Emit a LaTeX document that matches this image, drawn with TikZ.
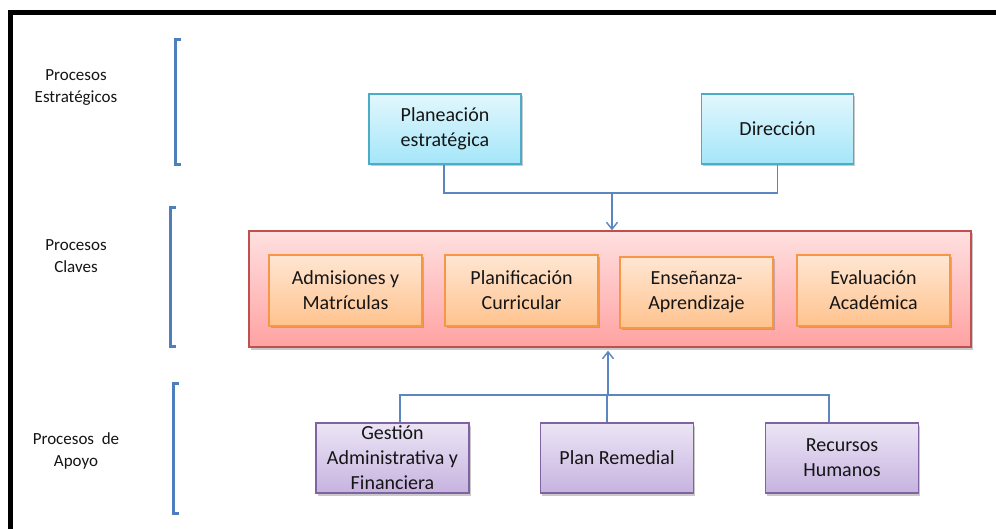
\documentclass[tikz,border=0pt]{standalone}
\usepackage{fontspec}
\setmainfont{Carlito}
\usetikzlibrary{arrows.meta,shadows,calc}
\definecolor{conn}{HTML}{5B86C0}
\definecolor{brk}{HTML}{4F7EBD}
\definecolor{txt}{HTML}{151515}
\definecolor{HTML4BACC6}{HTML}{4BACC6}
\definecolor{cyantop}{HTML}{E2F7FD}
\definecolor{cyanbot}{HTML}{A4E6F9}
\definecolor{orangeedge}{HTML}{F79646}
\definecolor{orangetop}{HTML}{FFE6D3}
\definecolor{orangebot}{HTML}{FFC38E}
\definecolor{purpleedge}{HTML}{8064A2}
\definecolor{purpletop}{HTML}{ECE5F5}
\definecolor{purplebot}{HTML}{C6B3E0}
\definecolor{rededge}{HTML}{C0504D}
\definecolor{redtop}{HTML}{FFE0E0}
\definecolor{redbot}{HTML}{FFA2A2}
\tikzset{
  boxbase/.style={draw, line width=1.3pt, align=center, inner sep=0pt, text=txt,
    font=\fontsize{20}{25}\selectfont,
    drop shadow={shadow xshift=1.5pt, shadow yshift=-2.5pt, opacity=0.35, fill=black!60}},
  cyanbox/.style={boxbase, draw=HTML4BACC6, top color=cyantop, bottom color=cyanbot,
    minimum width=152pt, minimum height=70pt},
  orangebox/.style={boxbase, draw=orangeedge, top color=orangetop, bottom color=orangebot,
    minimum width=153pt, minimum height=71pt},
  purplebox/.style={boxbase, draw=purpleedge, top color=purpletop, bottom color=purplebot,
    minimum width=153pt, minimum height=70pt},
  redbox/.style={draw=rededge, line width=1.3pt, top color=redtop, bottom color=redbot,
    minimum width=722pt, minimum height=116pt, inner sep=0pt,
    drop shadow={shadow xshift=1.5pt, shadow yshift=-2.5pt, opacity=0.35, fill=black!60}},
  sidelabel/.style={align=center, text=txt, font=\fontsize{17}{22}\selectfont, inner sep=0pt},
  connector/.style={draw=conn, line width=1.6pt},
  arrowconn/.style={connector, -{Straight Barb[length=7pt,width=11pt,line width=1.4pt]}},
  bracketline/.style={draw=brk, line width=3pt, line cap=butt, line join=miter},
}
\begin{document}
\begin{tikzpicture}[x=1pt,y=-1pt]
\useasboundingbox (0,0) rectangle (996,529);
\fill[white] (0,0) rectangle (996,529);
% outer frame (top and left only)
\draw[line width=5pt, black] (10.5,529) -- (10.5,12.5) -- (996,12.5);

% side labels
\node[sidelabel] (lstrat) at (76,88) {Procesos\\Estratégicos};
\node[sidelabel] (lclave) at (76,256) {Procesos\\Claves};
\node[sidelabel] (lapoyo) at (76,451) {Procesos\ \ de\\Apoyo};

% brackets
\draw[bracketline] (181,40) -- (175,40) -- (175,165) -- (181,165);
\draw[bracketline] (176,208) -- (170,208) -- (170,346) -- (176,346);
\draw[bracketline] (179,383) -- (173,383) -- (173,513) -- (179,513);

% strategic
\node[cyanbox] (plan) at (445,129) {Planeación\\estratégica};
\node[cyanbox] (dir) at (777.5,129) {Dirección};

% key processes
\node[redbox] (key) at (610,289) {};
\node[orangebox] (adm) at (345.5,290.5) {Admisiones y\\Matrículas};
\node[orangebox] (pcur) at (521.5,290.5) {Planificación\\Curricular};
\node[orangebox] (ens) at (696.5,292.5) {Enseñanza-\\Aprendizaje};
\node[orangebox] (eva) at (873.5,290.5) {Evaluación\\Académica};

% support
\node[purplebox] (ges) at (392.5,458) {Gestión\\Administrativa y\\Financiera};
\node[purplebox] (rem) at (617,458) {Plan Remedial};
\node[purplebox] (rrhh) at (842,458) {Recursos\\Humanos};

% top connectors
\coordinate (tj) at (612,193);
\draw[connector] ([xshift=-1pt]plan.south) |- (tj);
\draw[connector] (dir.south) |- (tj);
\draw[arrowconn] (tj) -- (tj |- key.north);

% bottom connectors
\coordinate (bj) at (608,395);
\draw[connector] ([xshift=7.5pt]ges.north) |- (bj);
\draw[connector] ([xshift=-10pt]rem.north) -- ++(0,-28);
\draw[connector] ([xshift=-13pt]rrhh.north) |- (bj);
\draw[arrowconn] (bj) -- ([yshift=-3pt]bj |- key.south);
\end{tikzpicture}
\end{document}
